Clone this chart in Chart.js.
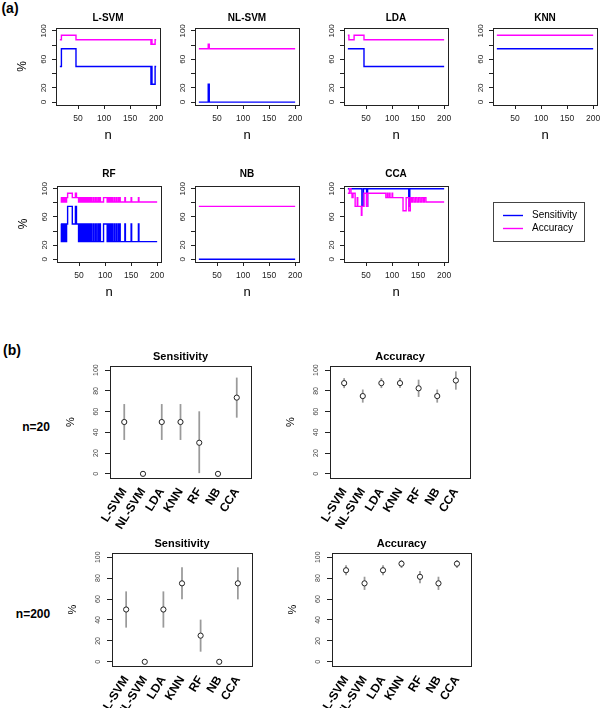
<!DOCTYPE html>
<html>
<head>
<meta charset="utf-8">
<script src="https://cdn.jsdelivr.net/npm/chart.js@4/dist/chart.umd.min.js"></script>
<style>
  html, body { margin: 0; padding: 0; background: #fff; overflow: hidden; }
  #wrap { position: relative; width: 600px; height: 708px; }
  #wrap canvas { position: absolute; left: 0; top: 0; }
  .lab { position: absolute; font-family: "Liberation Sans", Arial, sans-serif; font-weight: bold;
         color: #000; white-space: nowrap; transform: translate(-50%, -50%); }
</style>
</head>
<body>
<div id="wrap">
  <div class="lab" style="left:10px;top:8px;font-size:14px">(a)</div>
  <div class="lab" style="left:12px;top:350px;font-size:14px">(b)</div>
  <div class="lab" style="left:36px;top:427px;font-size:12px">n=20</div>
  <div class="lab" style="left:33px;top:614px;font-size:12px">n=200</div>
</div>
<script>
// ---- data -------------------------------------------------------------
// (a) step series as change points [n, %]; each value holds until the next n
const N_TICKS      = [50, 100, 150, 200];
const PCT_TICKS    = [0, 20, 40, 60, 80, 100];
const A_Y_LABELLED = [0, 20, 60, 100];

const LSVM_SENS  = [[15,50],[18,75],[46,50],[190,25],[191,50],[192,25],[198,50],[200,50]];
const LSVM_ACC   = [[15,87.5],[18,93.75],[46,87.5],[190,81.25],[191,87.5],[192,81.25],[198,87.5],[200,87.5]];
const NLSVM_SENS = [[15,0],[33,25],[35,0],[200,0]];
const NLSVM_ACC  = [[15,75],[33,81.25],[35,75],[200,75]];
const LDA_SENS   = [[15,75],[46,50],[200,50]];
const LDA_ACC    = [[15,93.75],[17,87.5],[27,93.75],[46,87.5],[200,87.5]];
const KNN_SENS   = [[15,75],[200,75]];
const KNN_ACC    = [[15,93.75],[200,93.75]];
const RF_SENS = [[15,50],[16,25],[17,50],[18,25],[20,50],[21,25],[22,50],[24,25],[26,50],
  [28,75],[37,50],[43,75],[45,50],[49,25],[50,50],[52,25],[54,50],[55,25],[57,50],[59,25],
  [61,50],[62,25],[64,50],[66,25],[67,50],[68,25],[70,50],[72,25],[74,50],[75,25],[78,50],
  [79,25],[82,50],[83,25],[86,50],[88,25],[90,50],[91,25],[97,50],[104,25],[106,50],[107,25],
  [109,50],[111,25],[113,50],[114,25],[117,50],[118,25],[121,50],[122,25],[125,50],[126,25],
  [128,50],[129,25],[138,50],[139,25],[150,50],[151,25],[164,50],[165,25],[200,25]];
const RF_ACC = [[15,87.5],[16,81.25],[17,87.5],[18,81.25],[20,87.5],[21,81.25],[22,87.5],[24,81.25],[26,87.5],
  [28,93.75],[37,87.5],[43,93.75],[45,87.5],[49,81.25],[50,87.5],[52,81.25],[54,87.5],[55,81.25],[57,87.5],[59,81.25],
  [61,87.5],[62,81.25],[64,87.5],[66,81.25],[67,87.5],[68,81.25],[70,87.5],[72,81.25],[74,87.5],[75,81.25],[78,87.5],
  [79,81.25],[82,87.5],[83,81.25],[86,87.5],[88,81.25],[90,87.5],[91,81.25],[97,87.5],[104,81.25],[106,87.5],[107,81.25],
  [109,87.5],[111,81.25],[113,87.5],[114,81.25],[117,87.5],[118,81.25],[121,87.5],[122,81.25],[125,87.5],[126,81.25],
  [128,87.5],[129,81.25],[138,87.5],[139,81.25],[150,87.5],[151,81.25],[164,87.5],[165,81.25],[200,81.25]];
const NB_SENS  = [[15,0],[200,0]];
const NB_ACC   = [[15,75],[200,75]];
const CCA_SENS = [[15,100],[42,75],[45,100],[51,75],[53,100],[132,75],[134,100],[200,100]];
const CCA_ACC  = [[15,93.75],[18,100],[21,93.75],[23,87.5],[25,93.75],[29,75],[33,87.5],[34,75],[41,62.5],
  [42,75],[46,93.75],[51,75],[53,93.75],[88,87.5],[91,93.75],[92,87.5],[95,93.75],[96,87.5],[100,93.75],
  [101,87.5],[121,68.75],[127,87.5],[132,68.75],[135,87.5],[137,81.25],[139,87.5],[142,81.25],[145,87.5],
  [148,81.25],[151,87.5],[154,81.25],[157,87.5],[160,81.25],[162,87.5],[165,81.25],[200,81.25]];

// (b) point estimates with interval ends (null = no interval drawn)
const METHODS    = ['L-SVM', 'NL-SVM', 'LDA', 'KNN', 'RF', 'NB', 'CCA'];
const B_Y_TICKS  = [0, 20, 40, 60, 80, 100];
const SENS20     = [50, 0, 50, 50, 30, 0, 73.5];
const SENS20_LO  = [33, null, 33, 33, 1, null, 54.5];
const SENS20_HI  = [67, null, 67, 67, 60, null, 92.5];
const ACC20      = [87.5, 75, 87.5, 87.5, 82.5, 75, 90];
const ACC20_LO   = [83, 69, 83, 83, 74.5, 69, 81.5];
const ACC20_HI   = [92, 81, 92, 92, 90.5, 81, 98.5];
const SENS200    = [50, 0, 50, 75, 25, 0, 75];
const SENS200_LO = [33, null, 33, 60, 10, null, 60];
const SENS200_HI = [67, null, 67, 90, 40, null, 90];
const ACC200     = [87.5, 75, 87.5, 93.75, 81.25, 75, 93.75];
const ACC200_LO  = [83, 69, 83, 90, 75.5, 69, 90];
const ACC200_HI  = [92, 81, 92, 97, 86.5, 81, 97];

// ---- style / layout ---------------------------------------------------
const FONT       = '"Liberation Sans", Arial, Helvetica, sans-serif';
const SENS_COLOR = '#0000ff';
const ACC_COLOR  = '#ff00ff';
const INK        = '#222';
const PAGE_W = 600, PAGE_H = 708;

Chart.defaults.font.family = FONT;
Chart.defaults.color = INK;

const wrap = document.getElementById('wrap');

function newCanvas() {
  const c = document.createElement('canvas');
  c.width = PAGE_W; c.height = PAGE_H;
  wrap.appendChild(c);
  return c;
}

// every canvas covers the whole page; the left axis fills everything left
// of the frame and the bottom axis everything below it, so the chart area
// lands exactly on the frame box b and tick labels are not clipped
function padFor(b) {
  return { left: 0, top: b.t, right: PAGE_W - b.r, bottom: 0 };
}
const sizeAxis = b => s => {
  if (s.isHorizontal()) s.height = PAGE_H - b.b; else s.width = b.l;
  s.paddingLeft = s.paddingRight = s.paddingTop = s.paddingBottom = 0;
};

const fixedTicks = vals => s => { s.ticks = vals.map(v => ({ value: v })); };
const xy = arr => arr.map(([x, y]) => ({ x, y }));

// R-like box, titles and optional legend
const rDecor = {
  id: 'rDecor',
  afterDraw(chart, args, o) {
    const { ctx, chartArea: a } = chart;
    const cx = (a.left + a.right) / 2, cy = (a.top + a.bottom) / 2;
    ctx.save();
    ctx.strokeStyle = INK;
    ctx.lineWidth = 1;
    ctx.strokeRect(a.left + 0.5, a.top + 0.5, a.right - a.left, a.bottom - a.top);

    ctx.fillStyle = '#000';
    ctx.textAlign = 'center';
    ctx.textBaseline = 'middle';
    if (o.title) { ctx.font = o.titleFont; ctx.fillText(o.title, cx, a.top - o.titleGap); }
    if (o.xlab)  { ctx.font = o.xlabFont;  ctx.fillText(o.xlab, cx, a.bottom + o.xlabGap); }
    if (o.ylab) {
      ctx.save();
      ctx.translate(a.left - o.ylabGap, cy);
      ctx.rotate(-Math.PI / 2);
      ctx.font = o.ylabFont;
      ctx.fillText(o.ylab, 0, 0);
      ctx.restore();
    }

    if (o.legend) {
      const L = o.legend;
      const x0 = a.right + L.dx, y0 = a.top + L.dy;
      ctx.strokeStyle = '#444';
      ctx.strokeRect(x0 + 0.5, y0 + 0.5, L.w, L.h);
      ctx.font = '10px ' + FONT;
      ctx.textAlign = 'left';
      chart.data.datasets.forEach((ds, i) => {
        const y = Math.round(y0 + L.first + i * L.step) + 0.5;
        ctx.strokeStyle = ds.borderColor;
        ctx.lineWidth = 1.4;
        ctx.beginPath();
        ctx.moveTo(x0 + 10, y);
        ctx.lineTo(x0 + 30, y);
        ctx.stroke();
        ctx.fillStyle = '#000';
        ctx.fillText(ds.label, x0 + 39, y);
      });
    }
    ctx.restore();
  }
};

const tickGrid = len => ({ drawOnChartArea: false, drawTicks: true, tickLength: len, color: INK, lineWidth: 1 });

// ---- (a) step charts ---------------------------------------------------
const A_PANELS = [
  { title: 'L-SVM',  sens: LSVM_SENS,  acc: LSVM_ACC,  box: { l: 56,  t: 28,  r: 160, b: 105, tg: 10,   ylab: true } },
  { title: 'NL-SVM', sens: NLSVM_SENS, acc: NLSVM_ACC, box: { l: 195, t: 28,  r: 299, b: 105, tg: 10 } },
  { title: 'LDA',    sens: LDA_SENS,   acc: LDA_ACC,   box: { l: 344, t: 28,  r: 448, b: 105, tg: 10 } },
  { title: 'KNN',    sens: KNN_SENS,   acc: KNN_ACC,   box: { l: 493, t: 28,  r: 597, b: 105, tg: 10 } },
  { title: 'RF',     sens: RF_SENS,    acc: RF_ACC,    box: { l: 57,  t: 186, r: 161, b: 262, tg: 11.3, ylab: true } },
  { title: 'NB',     sens: NB_SENS,    acc: NB_ACC,    box: { l: 195, t: 186, r: 299, b: 262, tg: 11.3 } },
  { title: 'CCA',    sens: CCA_SENS,   acc: CCA_ACC,   box: { l: 344, t: 186, r: 448, b: 262, tg: 11.3,
      legend: { dx: 45, dy: 16, w: 91, h: 39, first: 12.5, step: 13.3 } } },
];

function stepChart(p) {
  const b = p.box;
  const line = { borderWidth: 1.4, pointRadius: 0, stepped: true, fill: false };
  return new Chart(newCanvas(), {
    type: 'line',
    data: {
      datasets: [
        { ...line, label: 'Sensitivity', data: xy(p.sens), borderColor: SENS_COLOR, order: 1 },
        { ...line, label: 'Accuracy',    data: xy(p.acc),  borderColor: ACC_COLOR,  order: 0 },
      ],
    },
    options: {
      responsive: false,
      animation: false,
      events: [],
      layout: { padding: padFor(b) },
      plugins: {
        legend: { display: false },
        tooltip: { enabled: false },
        rDecor: {
          title: p.title, titleFont: 'bold 10px ' + FONT, titleGap: b.tg,
          xlab: 'n', xlabFont: '13px ' + FONT, xlabGap: 30.6,
          ylab: b.ylab ? '%' : '', ylabFont: '12px ' + FONT, ylabGap: 33,
          legend: b.legend || null,
        },
      },
      scales: {
        x: {
          type: 'linear', min: 7.6, max: 207.4,
          afterBuildTicks: fixedTicks(N_TICKS), afterFit: sizeAxis(b),
          border: { display: false }, grid: tickGrid(4),
          ticks: { autoSkip: false, maxRotation: 0, padding: 4.5, font: { size: 8.5 }, color: INK },
        },
        y: {
          type: 'linear', min: -4, max: 104,
          afterBuildTicks: fixedTicks(PCT_TICKS), afterFit: sizeAxis(b),
          border: { display: false }, grid: tickGrid(4),
          ticks: {
            autoSkip: false, minRotation: 90, maxRotation: 90, crossAlign: 'center',
            padding: 1.5, font: { size: 8 }, color: INK,
            callback: v => (A_Y_LABELLED.includes(v) ? String(v) : ''),
          },
        },
      },
    },
    plugins: [rDecor],
  });
}

A_PANELS.forEach(stepChart);

// ---- (b) interval charts -----------------------------------------------
const B_PANELS = [
  { title: 'Sensitivity', vals: SENS20,  lo: SENS20_LO,  hi: SENS20_HI,  box: { l: 110, t: 366, r: 251, b: 478 } },
  { title: 'Accuracy',    vals: ACC20,   lo: ACC20_LO,   hi: ACC20_HI,   box: { l: 330, t: 366, r: 470, b: 478 } },
  { title: 'Sensitivity', vals: SENS200, lo: SENS200_LO, hi: SENS200_HI, box: { l: 112, t: 553, r: 252, b: 666 } },
  { title: 'Accuracy',    vals: ACC200,  lo: ACC200_LO,  hi: ACC200_HI,  box: { l: 332, t: 553, r: 471, b: 666 } },
];

function ciChart(p) {
  const b = p.box;
  const points = METHODS.map((m, i) => ({ x: i + 1, y: p.vals[i] }));
  const bars = METHODS
    .map((m, i) => (p.lo[i] == null ? null : { x: i + 1, y: [p.lo[i], p.hi[i]] }))
    .filter(Boolean);

  return new Chart(newCanvas(), {
    type: 'scatter',
    data: {
      datasets: [
        {
          type: 'scatter', label: p.title, data: points, order: 0,
          pointRadius: 2.6, pointBorderWidth: 1, pointBorderColor: INK, pointBackgroundColor: '#fff',
        },
        {
          type: 'bar', label: p.title + ' interval', data: bars, order: 1,
          backgroundColor: '#9a9a9a', barThickness: 1.1, grouped: false, borderWidth: 0,
        },
      ],
    },
    options: {
      responsive: false,
      animation: false,
      events: [],
      layout: { padding: padFor(b) },
      plugins: {
        legend: { display: false },
        tooltip: { enabled: false },
        rDecor: {
          title: p.title, titleFont: 'bold 11px ' + FONT, titleGap: 8.7,
          ylab: '%', ylabFont: '11px ' + FONT, ylabGap: 39,
        },
      },
      scales: {
        x: {
          type: 'linear', min: 0.24, max: 7.76, offset: false,
          afterBuildTicks: fixedTicks(METHODS.map((m, i) => i + 1)), afterFit: sizeAxis(b),
          border: { display: false },
          grid: { display: false, drawTicks: false, drawOnChartArea: false, offset: false },
          ticks: {
            autoSkip: false, minRotation: 58, maxRotation: 58, padding: 7.5,
            font: { size: 12, weight: 'bold' }, color: '#000',
            callback: v => METHODS[v - 1],
          },
        },
        y: {
          type: 'linear', min: -4, max: 104,
          afterBuildTicks: fixedTicks(B_Y_TICKS), afterFit: sizeAxis(b),
          border: { display: false }, grid: tickGrid(5),
          ticks: {
            autoSkip: false, minRotation: 90, maxRotation: 90, crossAlign: 'center',
            padding: 3, font: { size: 7 }, color: '#444',
          },
        },
      },
    },
    plugins: [rDecor],
  });
}

B_PANELS.forEach(ciChart);
</script>
</body>
</html>
